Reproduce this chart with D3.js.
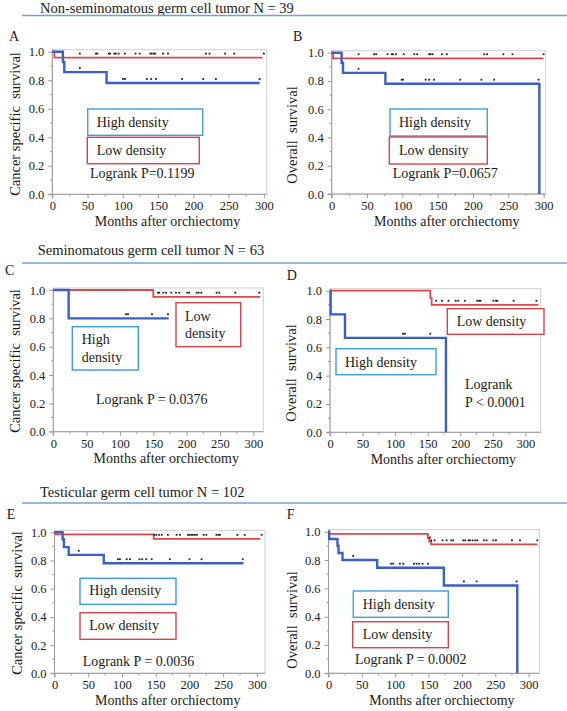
<!DOCTYPE html>
<html><head><meta charset="utf-8">
<script src="https://cdn.jsdelivr.net/npm/d3@7"></script>
<style>
html,body{margin:0;padding:0;background:#fff;}
svg{display:block;font-family:"Liberation Serif","Times New Roman",serif;}
text{white-space:pre;}
</style></head>
<body>
<svg id="c" width="567" height="711"></svg>
<script>
// ---------------- DATA ----------------
const headers = ["Non-seminomatous germ cell tumor N = 39", "Seminomatous germ cell tumor N = 63", "Testicular germ cell tumor N = 102"];
const xTicks = [0, 50, 100, 150, 200, 250, 300];
const yTicks = [0, 0.2, 0.4, 0.6, 0.8, 1.0];

// Panel A : cancer specific survival, non-seminomatous
const A_highT = [0, 15, 17, 77, 294];
const A_highS = [1, 0.929, 0.857, 0.78, 0.78];
const A_highCens = [39, 100, 103, 134, 140, 147, 184, 214, 232, 294];
const A_lowT = [0, 3, 298];
const A_lowS = [1, 0.958, 0.958];
const A_lowCens = [39, 62, 64, 80, 82, 88, 90, 94, 103, 118, 124, 139, 141, 144, 146, 157, 164, 218, 223, 245, 258, 300];

// Panel B : overall survival, non-seminomatous
const B_highT = [0, 14, 16, 76, 294, 294];
const B_highS = [1, 0.929, 0.857, 0.78, 0.78, 0];
const B_highCens = [38, 99, 101, 133, 138, 145, 182, 212, 230, 293];
const B_lowT = [0, 2, 300];
const B_lowS = [1, 0.96, 0.96];
const B_lowCens = [38, 60, 63, 79, 85, 87, 91, 102, 117, 121, 138, 140, 143, 156, 163, 216, 220, 243, 256, 300];

// Panel C : cancer specific survival, seminomatous
const C_highT = [0, 23, 173];
const C_highS = [1, 0.8, 0.8];
const C_highCens = [109, 112, 148, 172];
const C_lowT = [0, 150, 310];
const C_lowS = [1, 0.952, 0.952];
const C_lowCens = [157, 159, 165, 169, 177, 184, 189, 201, 204, 215, 218, 222, 245, 249, 273, 309];

// Panel D : overall survival, seminomatous
const D_highT = [0, 1, 23, 178, 178];
const D_highS = [1, 0.833, 0.667, 0.667, 0];
const D_highCens = [112, 115, 154];
const D_lowT = [0, 154, 156, 320];
const D_lowS = [1, 0.95, 0.9, 0.9];
const D_lowCens = [163, 172, 182, 193, 197, 207, 226, 229, 231, 251, 255, 257, 282, 317];

// Panel E : cancer specific survival, all testicular germ cell tumors
const E_highT = [0, 12, 14, 21, 73, 280];
const E_highS = [1, 0.95, 0.895, 0.84, 0.78, 0.78];
const E_highCens = [36, 94, 97, 107, 112, 126, 130, 136, 144, 171, 200, 218, 279];
const E_lowT = [0, 2, 147, 305];
const E_lowS = [1, 0.985, 0.953, 0.953];
const E_lowCens = [148, 151, 155, 159, 168, 181, 186, 198, 200, 203, 205, 208, 211, 221, 225, 240, 243, 245, 271, 282, 307];

// Panel F : overall survival, all testicular germ cell tumors
const F_highT = [0, 1, 13.5, 15, 21, 73, 173, 283, 283];
const F_highS = [1, 0.948, 0.9, 0.85, 0.8, 0.745, 0.62, 0.62, 0];
const F_highCens = [37, 94, 97, 107, 112, 128, 132, 136, 141, 149, 203, 222, 282];
const F_lowT = [0, 1, 149, 151, 154, 313];
const F_lowS = [1, 0.985, 0.955, 0.93, 0.91, 0.91];
const F_lowCens = [152, 154, 159, 171, 177, 184, 187, 202, 205, 210, 212, 216, 220, 223, 233, 237, 247, 251, 275, 287, 313];

const pValues = ["Logrank P=0.1199", "Logrank P=0.0657", "Logrank P = 0.0376", "Logrank", "Logrank P = 0.0036", "Logrank P = 0.0002"];
const yTitles = ["Cancer specific  survival", "Overall  survival"];
const xTitle = "Months after orchiectomy";

// ---------------- LAYOUT ----------------
const BLUE = "#3a5fc8", RED = "#e0464c", BOXBLUE = "#3d9fdc", BOXRED = "#d9434b";
const FONT = "Liberation Serif";

const panels = [
  {letter:"A", lx:9, ly:40.5, left:52.3, right:266.7, top:51.7, bottom:194.3, xmax:304,
   high:[A_highT,A_highS,A_highCens], low:[A_lowT,A_lowS,A_lowCens],
   yTitle:yTitles[0], ytx:19.5, yty:124,
   boxes:[{x:87.7,y:109,w:115,h:26.3,c:BOXBLUE,t:[["High density",96.7,127]]},
          {x:87.3,y:137.3,w:112,h:26.4,c:BOXRED,t:[["Low density",96.7,155.3]]}],
   notes:[[pValues[0],90,178.3]]},
  {letter:"B", lx:293, ly:40.5, left:331.7, right:545.7, top:52.7, bottom:194, xmax:303,
   high:[B_highT,B_highS,B_highCens], low:[B_lowT,B_lowS,B_lowCens],
   yTitle:yTitles[1], ytx:297, yty:135,
   boxes:[{x:390,y:109,w:97.3,h:27,c:BOXBLUE,t:[["High density",399,126.5]]},
          {x:389.3,y:137,w:98,h:27,c:BOXRED,t:[["Low density",399,154.5]]}],
   notes:[[pValues[1],392.7,178.3]]},
  {letter:"C", lx:5, ly:275, left:53.3, right:263.3, top:290, bottom:431.7, xmax:315,
   high:[C_highT,C_highS,C_highCens], low:[C_lowT,C_lowS,C_lowCens],
   yTitle:yTitles[0], ytx:20, yty:361,
   boxes:[{x:72.3,y:326.7,w:66,h:43.3,c:BOXBLUE,t:[["High",81.7,344.3],["density",81.7,361.7]]},
          {x:176,y:302.7,w:64.7,h:44,c:BOXRED,t:[["Low",185,321],["density",185,338.3]]}],
   notes:[[pValues[2],96,404]]},
  {letter:"D", lx:286.7, ly:280, left:330, right:540.7, top:290.7, bottom:432.3, xmax:323.5,
   high:[D_highT,D_highS,D_highCens], low:[D_lowT,D_lowS,D_lowCens],
   yTitle:yTitles[1], ytx:296, yty:373,
   boxes:[{x:447.3,y:308.7,w:96.7,h:25.6,c:BOXRED,t:[["Low density",456.7,326]]},
          {x:336,y:348.7,w:100,h:26,c:BOXBLUE,t:[["High density",345,367.3]]}],
   notes:[[pValues[3],465,389.3],["P < 0.0001",465,406.7]]},
  {letter:"E", lx:6.7, ly:519.3, left:54.5, right:265, top:532.3, bottom:673.3, xmax:312,
   high:[E_highT,E_highS,E_highCens], low:[E_lowT,E_lowS,E_lowCens],
   yTitle:yTitles[0], ytx:21.5, yty:603,
   boxes:[{x:80,y:578.3,w:96,h:26,c:BOXBLUE,t:[["High density",89.3,595]]},
          {x:80,y:612.7,w:96,h:26.6,c:BOXRED,t:[["Low density",89.3,630]]}],
   notes:[[pValues[4],82.7,666]]},
  {letter:"F", lx:286.7, ly:519.3, left:328.5, right:539.3, top:531.7, bottom:673.3, xmax:316,
   high:[F_highT,F_highS,F_highCens], low:[F_lowT,F_lowS,F_lowCens],
   yTitle:yTitles[1], ytx:296.5, yty:620,
   boxes:[{x:353.3,y:591,w:95,h:26.3,c:BOXBLUE,t:[["High density",362.7,609.3]]},
          {x:352.7,y:621.7,w:95.6,h:26,c:BOXRED,t:[["Low density",362.7,639.3]]}],
   notes:[[pValues[5],355,664]]}
];

const headerLayout = [{x:40, y:12.5, ly:15.5}, {x:37.7, y:255, ly:263}, {x:40, y:497, ly:503}];

// ---------------- DRAW ----------------
const svg = d3.select("#c");

headers.forEach((h, i) => {
  const L = headerLayout[i];
  svg.append("text").attr("x", L.x).attr("y", L.y).attr("font-size", 14.5)
     .attr("font-family", FONT).attr("fill", "#1a1a1a").text(h);
  svg.append("line").attr("x1", 22).attr("x2", 567).attr("y1", L.ly).attr("y2", L.ly)
     .attr("stroke", "#7a9fcf").attr("stroke-width", 1.5);
});

function stepAt(T, S, t) {
  let v = S[0];
  for (let i = 0; i < T.length; i++) { if (T[i] <= t) v = S[i]; }
  return v;
}

panels.forEach(p => {
  const g = svg.append("g");
  const x = d3.scaleLinear().domain([0, p.xmax]).range([p.left, p.right]);
  const y = d3.scaleLinear().domain([0, 1]).range([p.bottom, p.top]);
  const frameTop = p.top - 2;

  // frame
  g.append("rect").attr("x", p.left).attr("y", frameTop).attr("width", p.right - p.left)
   .attr("height", p.bottom - frameTop).attr("fill", "none").attr("stroke", "#cfcfcf").attr("stroke-width", 1);

  // axes
  const xAxis = d3.axisBottom(x).tickValues(xTicks).tickSize(4).tickPadding(3).tickFormat(d3.format("d"));
  const ax = g.append("g").attr("transform", `translate(0,${p.bottom})`).call(xAxis);
  const yAxis = d3.axisLeft(y).tickValues(yTicks).tickSize(4).tickPadding(4).tickFormat(d3.format(".1f"));
  const ay = g.append("g").attr("transform", `translate(${p.left},0)`).call(yAxis);
  [ax, ay].forEach(a => {
    a.attr("font-family", FONT);
    a.select(".domain").attr("stroke", "#9a9a9a");
    a.selectAll(".tick line").attr("stroke", "#9a9a9a");
    a.selectAll(".tick text").attr("font-family", FONT).attr("font-size", 12.5).attr("fill", "#1a1a1a");
  });
  ay.select(".domain").attr("d", `M-4,${p.bottom}H0V${frameTop}`);
  ax.select(".domain").attr("d", `M${p.left},4V0H${p.right}`);
  // minor ticks
  g.selectAll(".mx").data(d3.range(25, p.xmax, 50)).join("line")
   .attr("x1", d => x(d)).attr("x2", d => x(d)).attr("y1", p.bottom).attr("y2", p.bottom + 2)
   .attr("stroke", "#9a9a9a");
  g.selectAll(".my").data(d3.range(0.1, 1, 0.2)).join("line")
   .attr("y1", d => y(d)).attr("y2", d => y(d)).attr("x1", p.left).attr("x2", p.left - 2)
   .attr("stroke", "#9a9a9a");

  // titles
  g.append("text").attr("x", (p.left + p.right) / 2 + 8).attr("y", p.bottom + 31.5)
   .attr("text-anchor", "middle").attr("font-family", FONT).attr("font-size", 14).attr("fill", "#1a1a1a").text(xTitle);
  g.append("text").attr("transform", `translate(${p.ytx},${p.yty}) rotate(-90)`)
   .attr("text-anchor", "middle").attr("font-family", FONT).attr("font-size", 14.5).attr("fill", "#1a1a1a").text(p.yTitle);
  svg.append("text").attr("x", p.lx).attr("y", p.ly).attr("font-family", FONT).attr("font-size", 14)
   .attr("fill", "#1a1a1a").text(p.letter);

  // curves
  const line = d3.line().x(d => x(d[0])).y(d => y(d[1])).curve(d3.curveStepAfter);
  [[p.low, RED, 1.8], [p.high, BLUE, 2.4]].forEach(([ser, col, w]) => {
    const [T, S, C] = ser;
    g.append("path").datum(T.map((t, i) => [t, S[i]])).attr("d", line)
     .attr("fill", "none").attr("stroke", col).attr("stroke-width", w);
    g.selectAll(null).data(C).join("rect")
     .attr("x", d => x(d) - 0.9).attr("y", d => y(stepAt(T, S, d)) - 5)
     .attr("width", 1.8).attr("height", 1.8).attr("fill", "#222");
  });

  // legend boxes & notes
  p.boxes.forEach(b => {
    g.append("rect").attr("x", b.x).attr("y", b.y).attr("width", b.w).attr("height", b.h)
     .attr("fill", "#fff").attr("stroke", b.c).attr("stroke-width", 1.4);
    b.t.forEach(([s, tx, ty]) => g.append("text").attr("x", tx).attr("y", ty)
      .attr("font-family", FONT).attr("font-size", 14).attr("fill", "#1a1a1a").text(s));
  });
  p.notes.forEach(([s, tx, ty]) => g.append("text").attr("x", tx).attr("y", ty)
    .attr("font-family", FONT).attr("font-size", 14).attr("fill", "#1a1a1a").text(s));
});
</script>
</body></html>
